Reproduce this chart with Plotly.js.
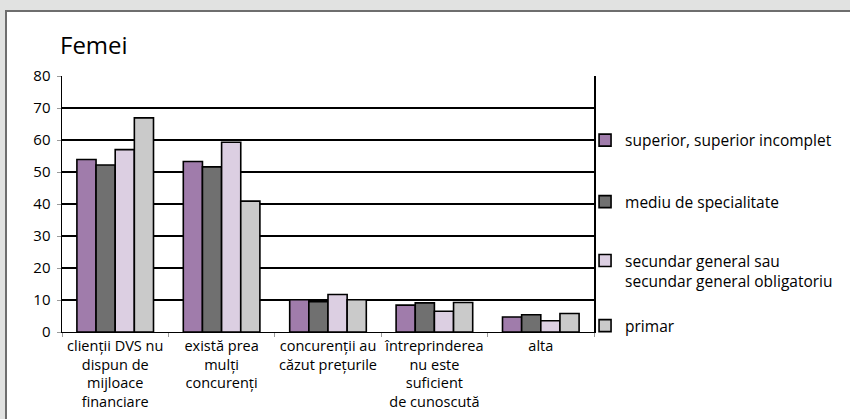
<!DOCTYPE html>
<html>
<head>
<meta charset="utf-8">
<script src="https://cdn.plot.ly/plotly-3.0.1.min.js"></script>
<style>
  html, body { margin: 0; padding: 0; }
  body { width: 850px; height: 419px; background: #e1e2e1; position: relative; overflow: hidden; }
  #panel { position: absolute; left: 5px; top: 10px; width: 845px; height: 409px; background: #ffffff;
           border-left: 2px solid #6e6e6e; border-top: 2px solid #6e6e6e; box-sizing: border-box; }
  #chart { position: absolute; left: 0; top: 0; width: 850px; height: 419px; }
</style>
</head>
<body>
<div id="panel"></div>
<div id="chart"></div>
<script>
const categories = [
  "clienții DVS nu<br>dispun de<br>mijloace<br>financiare",
  "există prea<br>mulți<br>concurenți",
  "concurenții au<br>căzut prețurile",
  "întreprinderea<br>nu este<br>suficient<br>de cunoscută",
  "alta"
];
const seriesNames = [
  "superior, superior incomplet",
  "mediu de specialitate",
  "secundar general sau<br>secundar general obligatoriu",
  "primar"
];
const superiorValues = [53.9, 53.3, 10.1, 8.4, 4.7];
const mediuValues = [52.2, 51.6, 9.5, 9.1, 5.4];
const secundarValues = [57.0, 59.3, 11.7, 6.5, 3.5];
const primarValues = [66.9, 40.9, 10.1, 9.2, 5.8];
const yTicks = [0, 10, 20, 30, 40, 50, 60, 70, 80];

const colors = ["#a07cab", "#707070", "#dccfe2", "#cacaca"];
const allValues = [superiorValues, mediuValues, secundarValues, primarValues];
const legendIds = ["legend", "legend2", "legend3", "legend4"];

const traces = allValues.map((vals, i) => ({
  type: "bar",
  x: categories,
  y: vals,
  name: seriesNames[i],
  legend: legendIds[i],
  marker: { color: colors[i], line: { color: "#000000", width: 1.6 } },
  hoverinfo: "y"
}));

const plotL = 62, plotR = 597, plotT = 76, plotB = 332;
const W = 850, H = 419;
function lx(px) { return (px - plotL) / (plotR - plotL); }
function ly(py) { return (plotB - py) / (plotB - plotT); }
const fontFamily = "Open Sans, sans-serif";
const legendFont = { family: fontFamily, size: 15.5, color: "#000000" };
function leg(cy) {
  return { x: lx(588), y: ly(cy), xanchor: "left", yanchor: "middle", bgcolor: "rgba(0,0,0,0)",
           font: legendFont, itemwidth: 30, valign: "top" };
}

const layout = {
  width: W, height: H,
  paper_bgcolor: "rgba(0,0,0,0)",
  plot_bgcolor: "#ffffff",
  margin: { l: plotL, r: W - plotR, t: plotT, b: H - plotB, pad: 0 },
  title: { text: "Femei", x: 60 / W, xanchor: "left", y: 1 - 46 / H, yanchor: "middle",
           font: { family: fontFamily, size: 24, color: "#000000" } },
  barmode: "group",
  bargap: 0.28,
  bargroupgap: 0,
  showlegend: true,
  legend: leg(140.5),
  legend2: leg(202),
  legend3: leg(271),
  legend4: leg(326),
  xaxis: {
    type: "category",
    showline: true, linecolor: "#000000", linewidth: 1.3,
    ticks: "outside", tickson: "boundaries", ticklen: 4, tickcolor: "#9a9a9a", tickwidth: 1,
    tickangle: 0,
    showgrid: false,
    tickfont: { family: fontFamily, size: 14.5, color: "#000000" },
    fixedrange: true
  },
  yaxis: {
    range: [0, 80],
    tickvals: yTicks,
    showline: true, linecolor: "#000000", linewidth: 1.5, mirror: true,
    ticks: "outside", ticklen: 4, tickcolor: "#9a9a9a", tickwidth: 1,
    ticklabelstandoff: 3,
    showgrid: true, gridcolor: "#000000", gridwidth: 1.5,
    zeroline: false,
    tickfont: { family: fontFamily, size: 15, color: "#000000" },
    fixedrange: true
  }
};

Plotly.newPlot("chart", traces, layout, { displayModeBar: false, staticPlot: true });
</script>
</body>
</html>
